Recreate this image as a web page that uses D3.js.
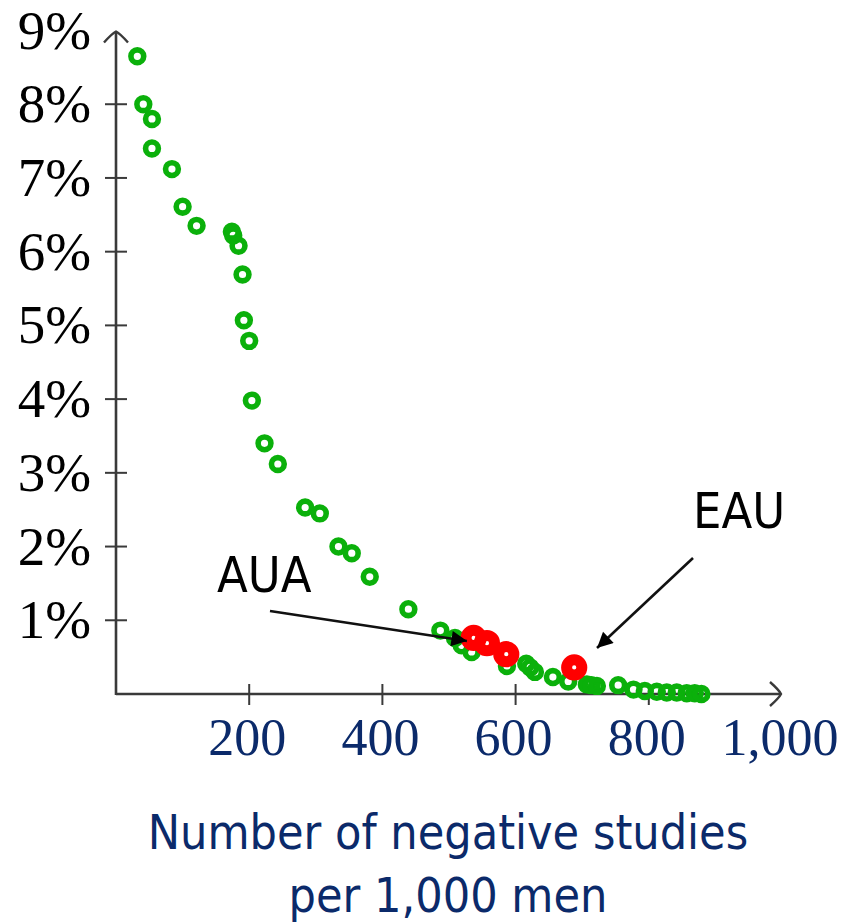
<!DOCTYPE html>
<html><head><meta charset="utf-8">
<script src="https://cdn.jsdelivr.net/npm/d3@7"></script>
<style>body{margin:0;background:#fff;}svg{display:block;}</style>
</head><body>
<svg id="c" width="841" height="923"></svg>
<script>
// ---- data ----
const greenX = [32,41,54,54,84,100,121,174,176,184,190,192,200,204,223,243,284,306,334,354,381,439,487,509,519,534,587,616,622,629,656,679,707,714,722,754,777,794,812,827,842,857,869,879];
const greenY = [8.65,8.00,7.80,7.40,7.12,6.61,6.35,6.27,6.22,6.08,5.69,5.07,4.79,3.98,3.40,3.12,2.53,2.45,2.00,1.91,1.59,1.15,0.86,0.76,0.66,0.57,0.38,0.41,0.36,0.30,0.23,0.17,0.13,0.12,0.11,0.12,0.06,0.04,0.03,0.02,0.02,0.01,0.01,0.00];
const redX = [537,557,586,688];
const redY = [0.76,0.69,0.54,0.36];
const xTicks = [200,400,600,800,1000];
const yTicks = [1,2,3,4,5,6,7,8,9];
const xTitle = ["Number of negative studies","per 1,000 men"];
const annotations = [
  {label:"AUA", tx:217, ty:592, x1:270, y1:611, x2:467, y2:641},
  {label:"EAU", tx:693, ty:528, x1:693, y1:558, x2:597, y2:648}
];

const svg = d3.select("#c");
const x = d3.scaleLinear().domain([0,1000]).range([116,782]);
const y = d3.scaleLinear().domain([0,9]).range([694,30.5]);
const axisColor = "#3a3a3a";

// axes lines
svg.append("line").attr("x1",x(0)).attr("x2",x(1000)-2).attr("y1",y(0)).attr("y2",y(0))
  .attr("stroke",axisColor).attr("stroke-width",2.6);
svg.append("line").attr("x1",x(0)).attr("x2",x(0)).attr("y1",y(0)+1).attr("y2",y(9)+2)
  .attr("stroke",axisColor).attr("stroke-width",2.6);
// arrow chevrons
svg.append("path").attr("d",`M${x(0)-12},${y(9)+12} Q${x(0)-4},${y(9)+3} ${x(0)},${y(9)+1} Q${x(0)+4},${y(9)+3} ${x(0)+12},${y(9)+12}`)
  .attr("fill","none").attr("stroke",axisColor).attr("stroke-width",2.4);
svg.append("path").attr("d",`M${x(1000)-12},${y(0)-12} Q${x(1000)-3},${y(0)-4} ${x(1000)-1},${y(0)} Q${x(1000)-3},${y(0)+4} ${x(1000)-12},${y(0)+12}`)
  .attr("fill","none").attr("stroke",axisColor).attr("stroke-width",2.4);

// y ticks + labels
const yt = svg.append("g");
yt.selectAll("line").data(yTicks.filter(d=>d<9)).enter().append("line")
  .attr("x1",x(0)-11).attr("x2",x(0)+11).attr("y1",d=>y(d)).attr("y2",d=>y(d))
  .attr("stroke",axisColor).attr("stroke-width",2);
yt.selectAll("text").data(yTicks).enter().append("text")
  .attr("x",91).attr("y",d=>y(d)+18).attr("text-anchor","end")
  .attr("font-family","'Liberation Serif','DejaVu Serif',serif").attr("font-size",55)
  .attr("fill","#000").text(d=>d+"%");

// x ticks + labels
const xt = svg.append("g");
xt.selectAll("line").data(xTicks.filter(d=>d<1000)).enter().append("line")
  .attr("x1",d=>x(d)).attr("x2",d=>x(d)).attr("y1",y(0)-10).attr("y2",y(0)+11)
  .attr("stroke",axisColor).attr("stroke-width",2);
xt.selectAll("text").data(xTicks).enter().append("text")
  .attr("x",d=>x(d)-2).attr("y",755).attr("text-anchor","middle")
  .attr("font-family","'Liberation Serif','DejaVu Serif',serif").attr("font-size",52)
  .attr("fill","#0b2a6a").text(d=>d3.format(",")(d));

// x title
svg.selectAll("text.title").data(xTitle).enter().append("text").attr("class","title")
  .attr("x",448).attr("y",(d,i)=>849+i*63).attr("text-anchor","middle")
  .attr("font-family","'DejaVu Sans Condensed','DejaVu Sans',sans-serif").attr("font-stretch","condensed")
  .attr("font-size",48).attr("fill","#0b2a6a").text(d=>d);

// green points
const green = greenX.map((v,i)=>({x:v,y:greenY[i]}));
const red = redX.map((v,i)=>({x:v,y:redY[i]}));
svg.append("g").selectAll("circle").data(green).enter().append("circle")
  .attr("cx",d=>x(d.x)).attr("cy",d=>y(d.y)).attr("r",6.4)
  .attr("fill","none").attr("stroke","#0bb00b").attr("stroke-width",5.6);
svg.append("g").selectAll("circle").data(red).enter().append("circle")
  .attr("cx",d=>x(d.x)).attr("cy",d=>y(d.y)).attr("r",7.6)
  .attr("fill","none").attr("stroke","#ff0000").attr("stroke-width",11);

// annotations
svg.append("defs").append("marker").attr("id","ah").attr("viewBox","0 0 10 10")
  .attr("refX",10).attr("refY",5).attr("markerWidth",7).attr("markerHeight",6)
  .attr("orient","auto").attr("markerUnits","strokeWidth")
  .append("path").attr("d","M0,0 L10,5 L0,10 Z").attr("fill","#000");
const ann = svg.append("g");
ann.selectAll("line").data(annotations).enter().append("line")
  .attr("x1",d=>d.x1).attr("y1",d=>d.y1).attr("x2",d=>d.x2).attr("y2",d=>d.y2)
  .attr("stroke","#111").attr("stroke-width",2.6).attr("marker-end","url(#ah)");
ann.selectAll("text").data(annotations).enter().append("text")
  .attr("x",d=>d.tx).attr("y",d=>d.ty)
  .attr("font-family","'DejaVu Sans Condensed','DejaVu Sans',sans-serif").attr("font-stretch","condensed")
  .attr("font-size",50).attr("fill","#000").text(d=>d.label);
</script>
</body></html>
